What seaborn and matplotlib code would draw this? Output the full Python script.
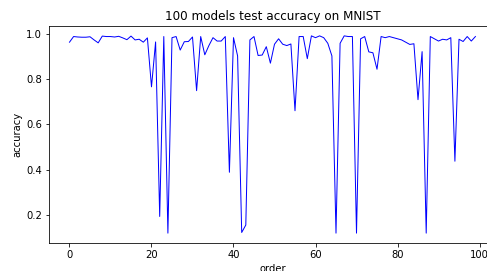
import numpy as np
import pandas as pd
import matplotlib
matplotlib.use("Agg")
import matplotlib.pyplot as plt
import seaborn as sns

order = list(range(100))
accuracy = [
    0.965, 0.990, 0.988, 0.987, 0.987, 0.989, 0.975, 0.962, 0.992, 0.990,
    0.990, 0.988, 0.991, 0.984, 0.976, 0.992, 0.975, 0.978, 0.965, 0.984,
    0.767, 0.966, 0.192, 0.990, 0.118, 0.985, 0.990, 0.930, 0.967, 0.968,
    0.988, 0.750, 0.990, 0.909, 0.950, 0.985, 0.970, 0.970, 0.990, 0.388,
    0.985, 0.904, 0.121, 0.154, 0.975, 0.990, 0.906, 0.908, 0.945, 0.872,
    0.956, 0.980, 0.956, 0.950, 0.957, 0.661, 0.990, 0.990, 0.892, 0.993,
    0.985, 0.993, 0.985, 0.960, 0.904, 0.118, 0.960, 0.993, 0.990, 0.990,
    0.118, 0.980, 0.990, 0.922, 0.918, 0.845, 0.990, 0.985, 0.990, 0.985,
    0.980, 0.975, 0.965, 0.955, 0.958, 0.710, 0.923, 0.118, 0.990, 0.980,
    0.970, 0.978, 0.975, 0.985, 0.437, 0.978, 0.968, 0.990, 0.970, 0.990,
]

df = pd.DataFrame({"order": order, "accuracy": accuracy})

dpi = 72
fig = plt.figure(figsize=(487 / dpi, 271 / dpi), dpi=dpi)
# axes extends past the right edge, as in the cropped reference
ax = fig.add_axes([49.2 / 487, 28 / 271, 446.5 / 487, 217 / 271])

sns.lineplot(data=df, x="order", y="accuracy", color="blue", linewidth=1, ax=ax)
ax.set_title("100 models test accuracy on MNIST")
ax.set_xlabel("order")
ax.set_ylabel("accuracy")

fig.savefig("out.png", dpi=dpi)
